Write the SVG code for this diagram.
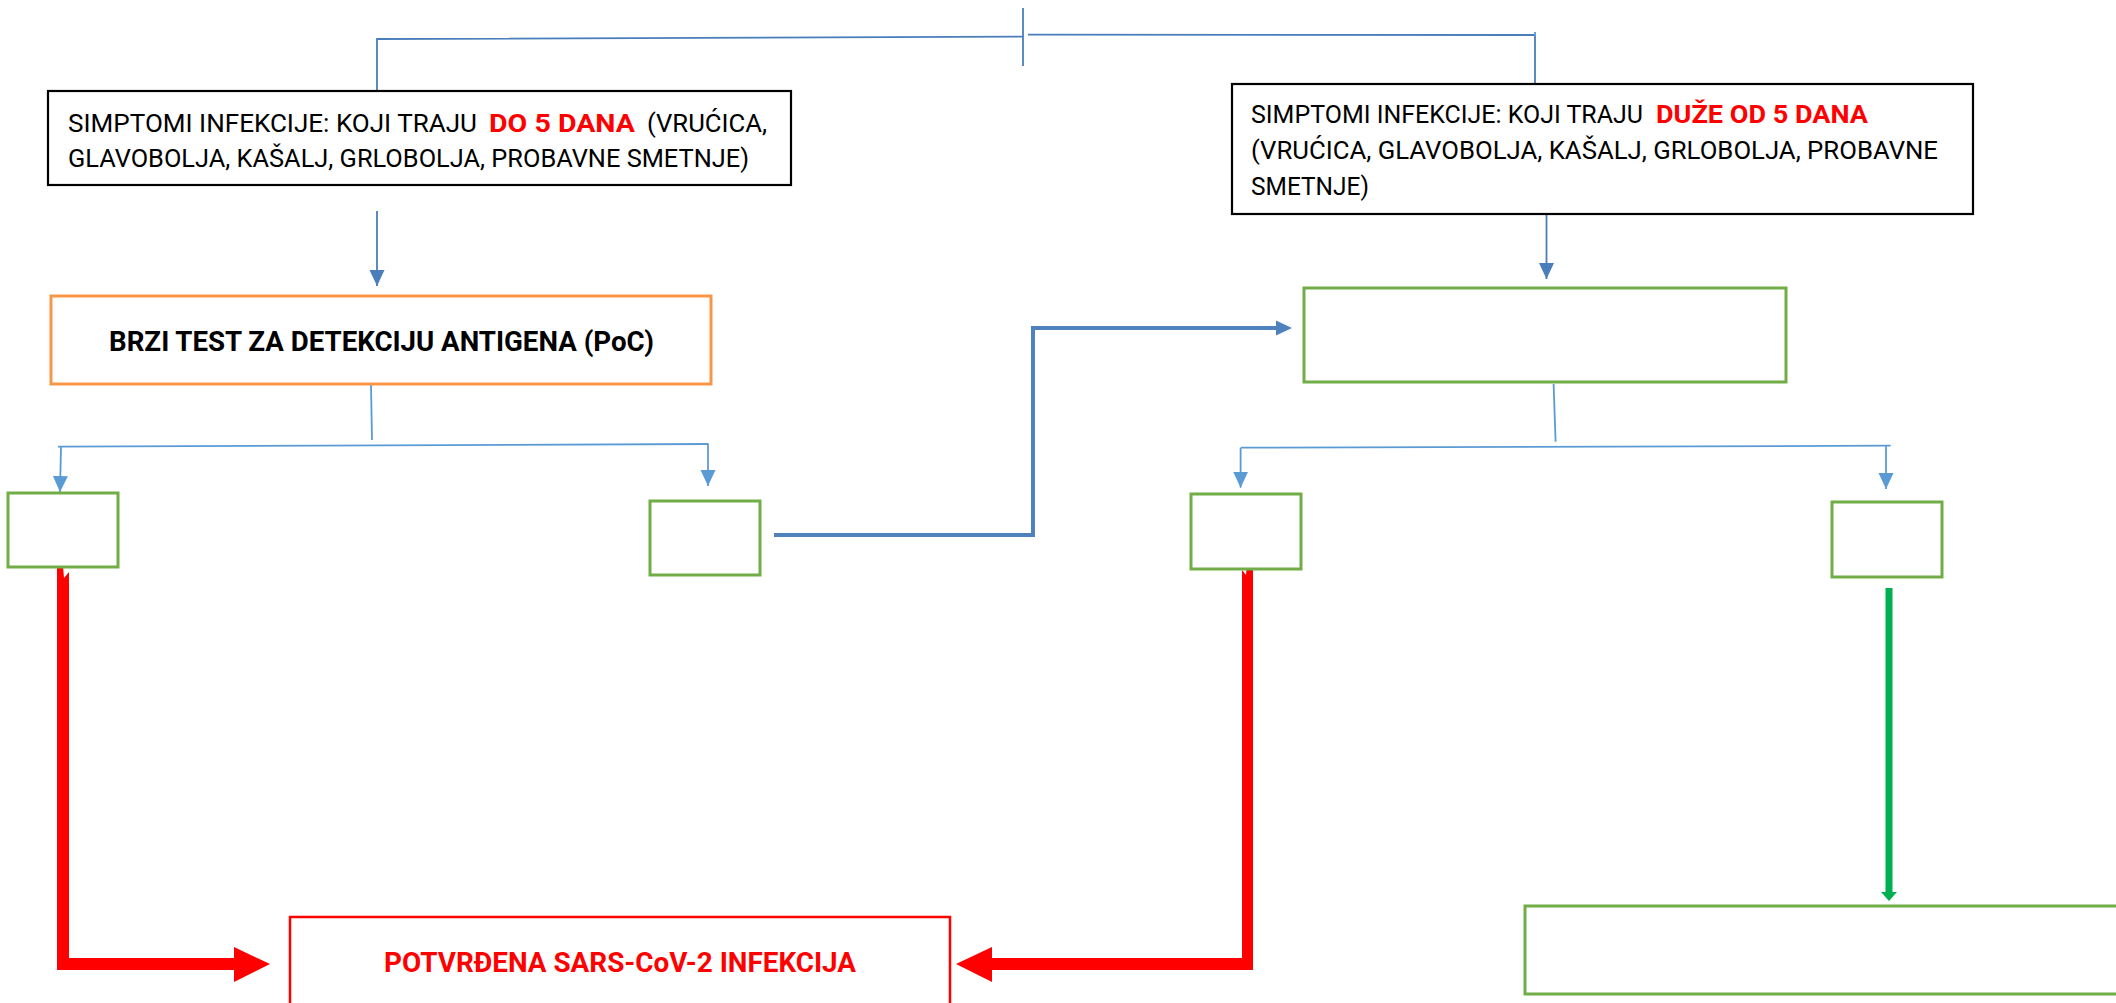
<svg xmlns="http://www.w3.org/2000/svg" width="2116" height="1003" viewBox="0 0 2116 1003">
<style>
.bg{fill:#fff}
.box{fill:#fff;stroke-width:2.2}
.blk{stroke:#000}
.grn{stroke:#70AD47;stroke-width:3}
.org{stroke:#F79646;stroke-width:3}
.redb{stroke:#FF0000;stroke-width:2.5}
.t{font-family:"Liberation Sans Narrow","Roboto","Liberation Sans",sans-serif;font-size:26.5px;fill:#000}
.b{font-family:"Liberation Sans Narrow","Roboto","Liberation Sans",sans-serif;font-size:27px;font-weight:bold}
.r{fill:#FF0000;font-weight:bold}
.thin{fill:none;stroke:#5B9BD5;stroke-width:1.8}
.dk{stroke:#4A7EBB}
</style>
<defs>
<marker id="ah" markerUnits="userSpaceOnUse" markerWidth="16" markerHeight="16" viewBox="0 0 16 16" refX="16" refY="8" orient="auto">
<path d="M0,0.5 L16,8 L0,15.5 Z" fill="#5B9BD5"/>
</marker>
<marker id="ahd" markerUnits="userSpaceOnUse" markerWidth="16" markerHeight="16" viewBox="0 0 16 16" refX="16" refY="8" orient="auto">
<path d="M0,0.5 L16,8 L0,15.5 Z" fill="#4A7EBB"/>
</marker>
</defs>
<rect class="bg" x="0" y="0" width="2116" height="1003"/>

<g id="connectors">
<path class="thin dk" d="M1023,8 V66"/>
<path class="thin dk" d="M1023,36.7 L377,39 V113" marker-end="url(#ah)"/>
<path class="thin dk" d="M1028,34.7 L1535,35 V106" marker-end="url(#ah)"/>
<path class="thin" d="M1535,32 V36"/>
<path class="thin dk" d="M377,211 V286" marker-end="url(#ahd)"/>
<path class="thin dk" d="M1546.5,214 V279" marker-end="url(#ahd)"/>
<path class="thin" d="M371,385 L372,440"/>
<path class="thin" d="M58,446.7 L708.5,444"/>
<path class="thin" d="M61,447 L60,492" marker-end="url(#ah)"/>
<path class="thin" d="M708,444 V486" marker-end="url(#ah)"/>
<path class="thin" d="M1553.6,384 L1555.6,441.7"/>
<path class="thin" d="M1240.6,447.7 L1890.7,445.7"/>
<path class="thin" d="M1240.6,448 V487.7" marker-end="url(#ah)"/>
<path class="thin" d="M1886,446 V489" marker-end="url(#ah)"/>
<path d="M774,535 H1033 V328 H1277" fill="none" stroke="#4F81BD" stroke-width="4"/>
<path d="M1276,320.5 L1292,328 L1276,335.5 Z" fill="#4F81BD"/>
<path d="M1889,588 V893" stroke="#00B050" stroke-width="7"/>
<path d="M1881,892 L1897,892 L1889,901 Z" fill="#00B050"/>
<polygon points="57,566 63,566 64,578 69,572 69,958 234,958 234,947 270,964 234,982 234,970 57,970" fill="#FF0000"/>
<polygon points="1253,564 1253,970 992,970 992,982 956,964 992,947 992,958 1242,958 1242,570 1246,575 1247,564" fill="#FF0000"/>
</g>

<g id="node-symptoms-short">
<rect class="box blk" x="48" y="91" width="743" height="94"/>
<text class="t" x="68" y="132" textLength="409" lengthAdjust="spacingAndGlyphs">SIMPTOMI INFEKCIJE: KOJI TRAJU</text>
<text class="t r" x="489" y="132" textLength="146" lengthAdjust="spacingAndGlyphs">DO 5 DANA</text>
<text class="t" x="647" y="132" textLength="120" lengthAdjust="spacingAndGlyphs">(VRUĆICA,</text>
<text class="t" x="68" y="167" textLength="681" lengthAdjust="spacingAndGlyphs">GLAVOBOLJA, KAŠALJ, GRLOBOLJA, PROBAVNE SMETNJE)</text>
</g>

<g id="node-symptoms-long">
<rect class="box blk" x="1232" y="84" width="741" height="130"/>
<text class="t" x="1251" y="123" textLength="392" lengthAdjust="spacingAndGlyphs">SIMPTOMI INFEKCIJE: KOJI TRAJU</text>
<text class="t r" x="1656" y="123" textLength="212" lengthAdjust="spacingAndGlyphs">DUŽE OD 5 DANA</text>
<text class="t" x="1251" y="159" textLength="687" lengthAdjust="spacingAndGlyphs">(VRUĆICA, GLAVOBOLJA, KAŠALJ, GRLOBOLJA, PROBAVNE</text>
<text class="t" x="1251" y="195" textLength="118" lengthAdjust="spacingAndGlyphs">SMETNJE)</text>
</g>

<g id="node-antigen-test">
<rect class="box org" x="51" y="296" width="660" height="88"/>
<text class="b" x="109" y="351" textLength="545" lengthAdjust="spacingAndGlyphs">BRZI TEST ZA DETEKCIJU ANTIGENA (PoC)</text>
</g>

<g id="node-right-test">
<rect class="box grn" x="1304" y="288" width="482" height="94"/>
</g>

<g id="node-left-pos"><rect class="box grn" x="8" y="493" width="110" height="74"/></g>
<g id="node-left-neg"><rect class="box grn" x="650" y="501" width="110" height="74"/></g>
<g id="node-right-pos"><rect class="box grn" x="1191" y="494" width="110" height="75"/></g>
<g id="node-right-neg"><rect class="box grn" x="1832" y="502" width="110" height="75"/></g>

<g id="node-confirmed">
<rect class="box redb" x="290" y="917" width="660" height="100"/>
<text class="b r" x="384" y="972" textLength="472" lengthAdjust="spacingAndGlyphs">POTVRĐENA SARS-CoV-2 INFEKCIJA</text>
</g>

<g id="node-bottom-right">
<rect class="box grn" x="1525" y="906" width="700" height="88"/>
</g>
</svg>
